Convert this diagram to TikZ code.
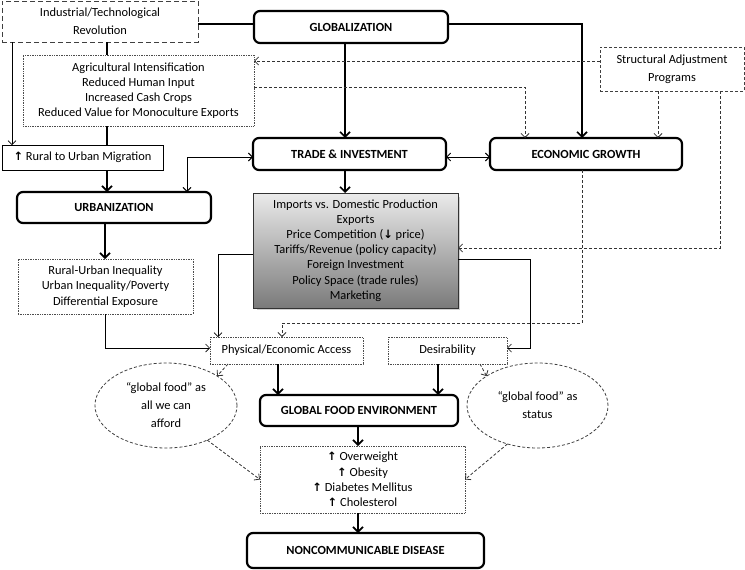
\documentclass[tikz,border=0pt]{standalone}
\usepackage{fontspec}
\setmainfont{Carlito}
\newfontfamily\arrfont{DejaVu Sans}
\usetikzlibrary{arrows.meta,shapes.geometric,calc}
\newcommand\upar{{\arrfont\bfseries\fontsize{11.5}{11}\selectfont\char"2191}}
\newcommand\dnar{{\arrfont\bfseries\fontsize{11.5}{11}\selectfont\char"2193}}
\begin{document}
\begin{tikzpicture}[x=1pt,y=-1pt,
  every node/.style={inner sep=0pt,outer sep=0pt,align=center,font=\fontsize{12.4}{15.2}\selectfont},
  big/.style={draw,rounded corners=6pt,line width=2.2pt,font=\bfseries\fontsize{12.4}{14}\selectfont},
  dotbox/.style={draw=black!70,densely dotted,line width=0.7pt},
  dashbox/.style={draw=black!75,dash pattern=on 5pt off 3pt,line width=0.9pt},
  sdash/.style={draw=black!75,dash pattern=on 3pt off 2pt,line width=0.8pt},
  wide/.style={font=\fontsize{12.4}{18}\selectfont},
  thinarr/.style={-{Straight Barb[length=4pt,width=8pt]},line width=0.7pt},
  dthinarr/.style={{Straight Barb[length=4pt,width=8pt]}-{Straight Barb[length=4pt,width=8pt]},line width=0.9pt},
  thickarr/.style={-{Straight Barb[length=5pt,width=10pt,line width=1.6pt]},line width=1.8pt},
  dasharr/.style={-{Straight Barb[length=4pt,width=8pt]},line width=0.8pt,dash pattern=on 3pt off 2pt,black!80},
  plain/.style={line width=1.2pt}
]
\useasboundingbox (0,0) rectangle (745,570);
% nodes
\node[dashbox,wide,minimum width=196,minimum height=41] (ind) at (100,21.5) {Industrial/Technological\\Revolution};
\node[big,minimum width=194,minimum height=32] (glob) at (351,27) {GLOBALIZATION};
\node[dotbox,minimum width=231,minimum height=71] (agri) at (138.5,90.5) {Agricultural Intensification\\Reduced Human Input\\Increased Cash Crops\\Reduced Value for Monoculture Exports};
\node[sdash,wide,minimum width=144,minimum height=44] (sap) at (672,69) {Structural Adjustment\\Programs};
\node[draw,line width=0.8pt,minimum width=161,minimum height=25] (rural) at (82.5,157.5) {\upar\ Rural to Urban Migration};
\node[big,minimum width=193,minimum height=32] (ti) at (349.5,154) {TRADE \& INVESTMENT};
\node[big,minimum width=192,minimum height=32] (eg) at (586,154) {ECONOMIC GROWTH};
\node[big,minimum width=194,minimum height=31] (urb) at (114,207.5) {URBANIZATION};
\fill[black!18] (257,197) rectangle (460,310);
\node[draw=black!80,line width=0.8pt,top color=black!8,bottom color=black!52,minimum width=205,minimum height=115] (gray) at (355.5,250.5) {Imports vs. Domestic Production\\Exports\\Price Competition (\dnar\ price)\\Tariffs/Revenue (policy capacity)\\Foreign Investment\\Policy Space (trade rules)\\Marketing};
\node[dotbox,minimum width=175,minimum height=55] (ineq) at (105.5,286.5) {Rural-Urban Inequality\\Urban Inequality/Poverty\\Differential Exposure};
\node[dotbox,minimum width=153,minimum height=27] (phys) at (286.5,350.5) {Physical/Economic Access};
\node[dotbox,minimum width=119,minimum height=27] (des) at (447.5,350.5) {Desirability};
\node[ellipse,sdash,wide,minimum width=142,minimum height=85] (ell1) at (166,405.5) {“global food” as\\all we can\\afford};
\node[ellipse,sdash,wide,minimum width=141,minimum height=85] (ell2) at (537.5,405.5) {“global food” as\\status};
\node[big,minimum width=198,minimum height=31] (gfe) at (359,410.5) {GLOBAL FOOD ENVIRONMENT};
\node[dotbox,minimum width=205,minimum height=67] (out) at (362.5,479.5) {\upar\ Overweight\\\upar\ Obesity\\\upar\ Diabetes Mellitus\\\upar\ Cholesterol};
\node[big,minimum width=237,minimum height=35] (ncd) at (365.5,550.5) {NONCOMMUNICABLE DISEASE};
% connectors
\draw[plain] (ind.east |- 0,24) -- (glob.west |- 0,24);
\draw[thickarr] (glob.east |- 0,24) -| (eg.north -| 582,0);
\draw[thickarr] (glob.south -| 345,0) -- (ti.north -| 345,0);
\draw[thinarr] (ind.south -| 12,0) -- (rural.north -| 12,0);
\draw[plain] (ind.south -| 107,0) -- (agri.north -| 107,0);
\draw[plain] (agri.south -| 107,0) -- (rural.north -| 107,0);
\draw[thickarr] (rural.south -| 107,0) -- (urb.north -| 107,0);
\draw[dthinarr] (urb.north -| 187,0) |- (ti.west |- 0,157);
\draw[dthinarr] (ti.east |- 0,157) -- (eg.west |- 0,157);
\draw[thickarr] (ti.south -| 345,0) -- (gray.north -| 345,0);
\draw[thickarr] (urb.south -| 105,0) -- (ineq.north -| 105,0);
\draw[dasharr] (sap.west |- 0,61) -- (agri.east |- 0,61);
\draw[dasharr] (agri.east |- 0,87) -| (eg.north -| 525,0);
\draw[dasharr] (sap.south -| 658,0) -- (eg.north -| 658,0);
\draw[dasharr] (sap.south -| 720,0) |- (gray.east |- 0,248);
\draw[dasharr] (eg.south -| 582,0) -- (582,323) -| (phys.north -| 282,0);
\draw[thinarr] (gray.west |- 0,254) -| (phys.north -| 218,0);
\draw[thinarr] (gray.east |- 0,259) -- (530,259) |- (des.east |- 0,348);
\draw[thinarr] (ineq.south -| 105,0) |- (phys.west |- 0,348);
\draw[thickarr] (phys.south -| 278,0) -- (gfe.north -| 278,0);
\draw[thickarr] (des.south -| 438,0) -- (gfe.north -| 438,0);
\draw[dasharr] (phys.south -| 228,0) -- (ell1.30);
\draw[dasharr] (des.south -| 480,0) -- (ell2.150);
\draw[dasharr] (ell1.-40) -- (out.west);
\draw[dasharr] (ell2.-128) -- (out.east);
\draw[thickarr] (gfe.south -| 358,0) -- (out.north -| 358,0);
\draw[thickarr] (out.south -| 358,0) -- (ncd.north -| 358,0);
\end{tikzpicture}
\end{document}
